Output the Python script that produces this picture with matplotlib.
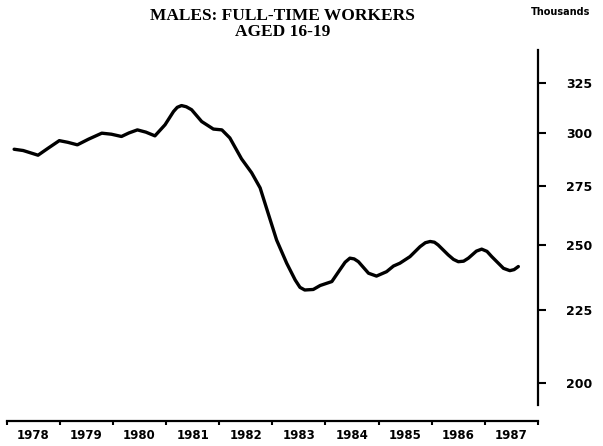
import matplotlib
matplotlib.use("Agg")
import matplotlib.pyplot as plt
from matplotlib.ticker import FixedLocator, NullFormatter, FixedFormatter, NullLocator

plt.rcParams['font.weight'] = 'bold'

# data (year fraction, thousands)
years = [1978.14, 1978.31, 1978.59, 1978.78, 1978.99, 1979.15, 1979.33, 1979.54,
         1979.79, 1979.97, 1980.16, 1980.30, 1980.46, 1980.62, 1980.79, 1980.98,
         1981.14, 1981.21, 1981.29, 1981.38, 1981.48, 1981.67, 1981.89, 1982.05,
         1982.20, 1982.42, 1982.61, 1982.77, 1982.92, 1983.08, 1983.27, 1983.43,
         1983.52, 1983.61, 1983.77, 1983.90, 1984.12, 1984.27, 1984.37, 1984.46,
         1984.54, 1984.62, 1984.81, 1984.96, 1985.15, 1985.28, 1985.40, 1985.59,
         1985.78, 1985.88, 1985.97, 1986.05, 1986.12, 1986.31, 1986.41, 1986.50,
         1986.60, 1986.69, 1986.84, 1986.94, 1987.04, 1987.13, 1987.35, 1987.47,
         1987.55, 1987.63]
workers = [292.0, 291.4, 289.2, 292.5, 296.1, 295.3, 294.1, 296.8,
           299.7, 299.2, 298.1, 299.8, 301.3, 300.2, 298.4, 303.8,
           310.4, 312.5, 313.4, 312.8, 311.3, 305.4, 301.7, 301.3,
           297.4, 287.5, 281.1, 274.3, 263.3, 252.1, 242.8, 236.3,
           233.5, 232.5, 232.7, 234.2, 235.7, 240.2, 243.2, 244.8,
           244.5, 243.4, 238.9, 237.8, 239.5, 241.7, 242.8, 245.4,
           249.4, 251.0, 251.5, 251.2, 250.1, 246.1, 244.3, 243.4,
           243.6, 244.8, 247.6, 248.4, 247.5, 245.4, 240.8, 239.9,
           240.3, 241.5]

year_labels = ['1978', '1979', '1980', '1981', '1982', '1983', '1984', '1985', '1986', '1987']
y_ticks = [200, 225, 250, 275, 300, 325]

fig = plt.figure(figsize=(6.03, 4.46), dpi=100)
ax = fig.add_axes([0.0111, 0.0919, 0.8811, 0.7960])

ax.plot(years, workers, color='black', linewidth=2.4, solid_capstyle='round',
        solid_joinstyle='round')

ax.set_yscale('log')
ax.set_ylim(193.0, 342.9)
ax.set_xlim(1978, 1988)

# y axis on the right
ax.yaxis.tick_right()
ax.yaxis.set_major_locator(FixedLocator(y_ticks))
ax.yaxis.set_major_formatter(FixedFormatter([str(v) for v in y_ticks]))
ax.yaxis.set_minor_locator(NullLocator())
ax.yaxis.set_minor_formatter(NullFormatter())
ax.tick_params(axis='y', which='major', direction='out', length=6, width=1.5,
               pad=14, labelsize=9)

# x axis: ticks at year boundaries, labels mid-year
ax.xaxis.set_major_locator(FixedLocator(range(1978, 1989)))
ax.xaxis.set_major_formatter(NullFormatter())
ax.xaxis.set_minor_locator(FixedLocator([1978.5 + i for i in range(10)]))
ax.xaxis.set_minor_formatter(FixedFormatter(year_labels))
ax.tick_params(axis='x', which='major', direction='out', length=3, width=1.5)
ax.tick_params(axis='x', which='minor', length=0, pad=6, labelsize=8.5)

ax.spines['left'].set_visible(False)
ax.spines['top'].set_visible(False)
ax.spines['right'].set_linewidth(1.6)
ax.spines['bottom'].set_linewidth(1.6)
ax.spines['bottom'].set_position(('outward', 11.5))

fig.text(0.468, 0.982, 'MALES: FULL-TIME WORKERS\nAGED 16-19', ha='center', va='top',
         fontsize=12.5, fontweight='bold', family='Liberation Serif', linespacing=1.0)
fig.text(0.930, 0.972, 'Thousands', ha='center', va='center', fontsize=7,
         fontweight='bold')

fig.savefig('out.png', dpi=100)
